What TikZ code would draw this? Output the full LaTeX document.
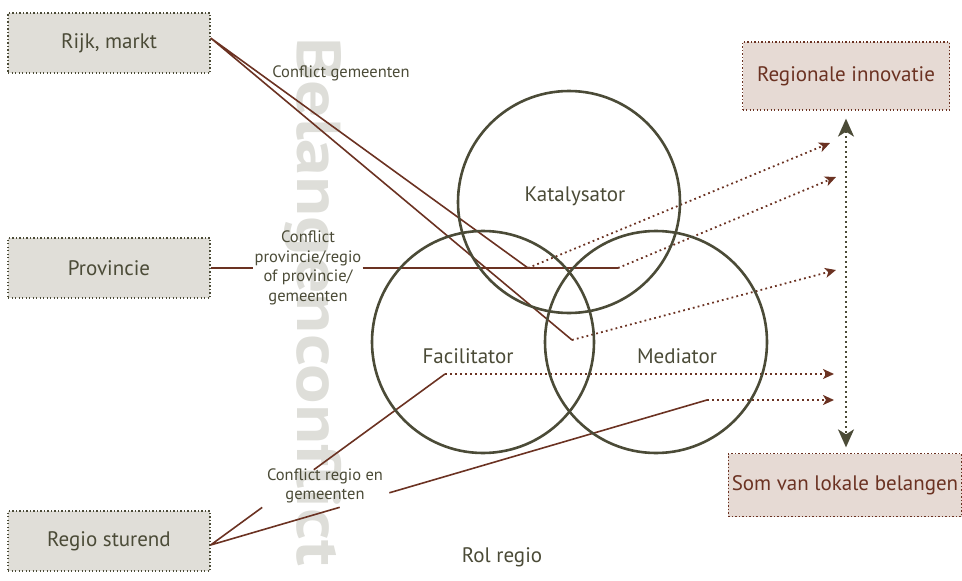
\documentclass[tikz,border=0pt]{standalone}
\usepackage{fontspec}
\setmainfont{PT Sans}
\usetikzlibrary{arrows.meta,calc}
\definecolor{olijf}{HTML}{4B4B37}
\definecolor{bruin}{HTML}{6B3222}
\definecolor{grijs}{HTML}{E0DED8}
\definecolor{roze}{HTML}{E6DAD4}
\definecolor{schaduw}{HTML}{DEDED9}

\begin{document}
\begin{tikzpicture}[x = 1pt, y = -1pt,
	actor/.style = {draw = olijf, fill = grijs, text = olijf, line width = 1.3pt, dash pattern = on 1.3pt off 2.2pt, minimum width = 202pt, minimum height = 60pt, font = \fontsize{21}{24}\selectfont},
	doel/.style = {draw = bruin, fill = roze, text = bruin, line width = 1.3pt, dash pattern = on 1.3pt off 2.2pt, font = \fontsize{21}{24}\selectfont},
	rol/.style = {circle, draw = olijf, line width = 2.6pt, minimum size = 222pt, inner sep = 0pt},
	rolnaam/.style = {text = olijf, font = \fontsize{21}{24}\selectfont},
	uitleg/.style = {text = olijf, align = center, font = \fontsize{16.5}{19.5}\selectfont, inner sep = 1pt},
	conflict/.style = {draw = bruin, line width = 1.6pt},
	effect/.style = {draw = bruin, line width = 1.8pt, dash pattern = on 1.8pt off 3.2pt, -{Stealth[length = 11pt, width = 10pt, inset = 3pt]}},
	]%rollen van de regio
	\useasboundingbox (0,0) rectangle (962,581);
	\node[rotate = -90, xscale = 1.19, anchor = base west, text = schaduw, font = \fontsize{62}{62}\selectfont\bfseries] (watermerk) at (297,33) {Belangenconflict};

	\node[actor] (rijk) at (109,43) {Rijk, markt};
	\node[actor] (prov) at (109,268) {Provincie};
	\node[actor] (regio) at (109,541) {Regio sturend};
	\node[doel, minimum width = 207pt, minimum height = 68pt] (innov) at (846,76) {Regionale innovatie};
	\node[doel, minimum width = 229pt, minimum height = 63pt] (som) at (845,485) {Som van lokale belangen};

	\node[uitleg] (cgem) at (341,73) {Conflict gemeenten};
	\node[uitleg] (cprov) at (308,268) {Conflict\\provincie/regio\\of provincie/\\gemeenten};
	\node[uitleg] (cregio) at (325,486) {Conflict regio en\\gemeenten};

	\coordinate (k1) at (528,268);
	\coordinate (k2) at (618,268);
	\coordinate (m1) at (572,340);
	\coordinate (f1) at (445,374);
	\coordinate (m2) at (707,400);
	\coordinate (e1) at (830,143);
	\coordinate (e2) at (836,177);
	\coordinate (e3) at (836,270);
	\coordinate (e4) at (834,374);
	\coordinate (e5) at (834,400);
	\coordinate (r0) at ([yshift = -4pt]regio.east);

	% conflicten
	\draw[conflict]
	([yshift = 5pt]rijk.east) -- (k1) ([yshift = 5pt]rijk.east) -- (m1);
	\draw[conflict]
	(prov.east) -- (cprov) (cprov) -- (k2);
	\draw[conflict]
	(r0) -- ($(r0)!0.22!(f1)$) ($(r0)!0.44!(f1)$) -- (f1)
	(r0) -- ($(r0)!0.26!(m2)$) ($(r0)!0.36!(m2)$) -- (m2);

	% effecten
	\draw[effect] (k1) -- (e1);
	\draw[effect] (k2) -- (e2);
	\draw[effect] (m1) -- (e3);
	\draw[effect] (f1) -- (e4);
	\draw[effect] (m2) -- (e5);
	\draw[draw = olijf, line width = 1.8pt, dash pattern = on 1.8pt off 3.2pt, {Stealth[length = 18pt, width = 16pt, inset = 5pt]}-{Stealth[length = 18pt, width = 16pt, inset = 5pt]}, shorten <= 8pt, shorten >= 5.5pt]
	(innov.south) -- (innov.south |- som.north);

	% rollen
	\node[rol] (kat) at (569,202) {};
	\node[rol] (fac) at (483,342) {};
	\node[rol] (med) at (656,342) {};
	\node[rolnaam] (katnaam) at (575,196) {Katalysator};
	\node[rolnaam] (facnaam) at (468,356) {Facilitator};
	\node[rolnaam] (mednaam) at (677,356) {Mediator};
	\node[rolnaam] (rolregio) at (502,557) {Rol regio};
\end{tikzpicture}
\end{document}
